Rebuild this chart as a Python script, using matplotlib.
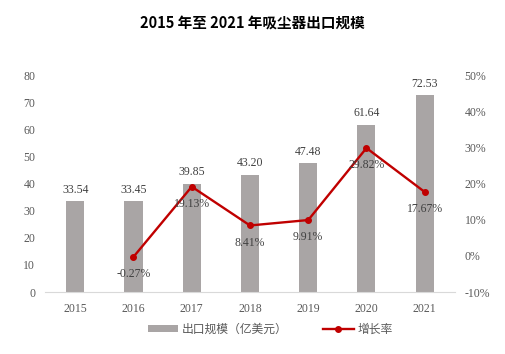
import matplotlib.pyplot as plt
import numpy as np

years = ['2015', '2016', '2017', '2018', '2019', '2020', '2021']
export_scale = [33.54, 33.45, 39.85, 43.20, 47.48, 61.64, 72.53]
growth_years = ['2016', '2017', '2018', '2019', '2020', '2021']
growth_rate = [-0.27, 19.13, 8.41, 9.91, 29.82, 17.67]

serif = ['Liberation Serif', 'Noto Sans CJK SC']
tick_color = '#595959'
bar_color = '#a9a5a5'
line_color = '#c00000'

fig = plt.figure(figsize=(5.05, 3.54), dpi=100)
ax = fig.add_axes([0.089, 0.175, 0.812, 0.613])

x = np.arange(len(years))
bars = ax.bar(x, export_scale, width=0.31, color=bar_color, label='出口规模（亿美元）', zorder=2)
for xi, v in zip(x, export_scale):
    ax.annotate(f'{v:.2f}', xy=(xi, v), xytext=(0, 4), textcoords='offset points',
                ha='center', va='bottom', fontsize=8.5, color='#404040', family=serif)

ax.set_ylim(0, 80)
ax.set_yticks(range(0, 81, 10))
ax.set_xlim(-0.52, len(years) - 0.48)
ax.set_xticks(x)
ax.set_xticklabels(years)
for s in ['top', 'left', 'right']:
    ax.spines[s].set_visible(False)
ax.spines['bottom'].set_color('#d9d9d9')
ax.tick_params(axis='both', length=0, labelsize=8.5, colors=tick_color, pad=8)
ax.tick_params(axis='y', pad=7)
for lbl in ax.get_xticklabels() + ax.get_yticklabels():
    lbl.set_family(serif)

ax2 = ax.twinx()
gx = [years.index(y) for y in growth_years]
line, = ax2.plot(gx, growth_rate, color=line_color, lw=1.7, marker='o', ms=4,
                 label='增长率', zorder=3)
for xi, v in zip(gx, growth_rate):
    ax2.annotate(f'{v:.2f}%', xy=(xi, v), xytext=(0, -8), textcoords='offset points',
                 ha='center', va='top', fontsize=8.5, color='#404040', family=serif)
ax2.set_ylim(-10, 50)
ax2.set_yticks(range(-10, 51, 10))
ax2.set_yticklabels([f'{t}%' for t in range(-10, 51, 10)])
for s in ['top', 'left', 'right', 'bottom']:
    ax2.spines[s].set_visible(False)
ax2.tick_params(axis='y', length=0, labelsize=8.5, colors=tick_color, pad=7)
for lbl in ax2.get_yticklabels():
    lbl.set_family(serif)

fig.text(0.5, 0.935, '2015 年至 2021 年吸尘器出口规模', ha='center', va='center',
         fontsize=10.5, fontweight='bold', family=['Noto Sans CJK SC', 'DejaVu Sans'])

leg = fig.legend(handles=[bars, line], loc='center', bbox_to_anchor=(0.535, 0.068), ncol=2,
                 frameon=False, handlelength=2.6, handleheight=0.5,
                 columnspacing=3.0, handletextpad=0.3, prop={'family': serif, 'size': 8.5})
for t in leg.get_texts():
    t.set_color(tick_color)

fig.savefig('out.png', dpi=100)
